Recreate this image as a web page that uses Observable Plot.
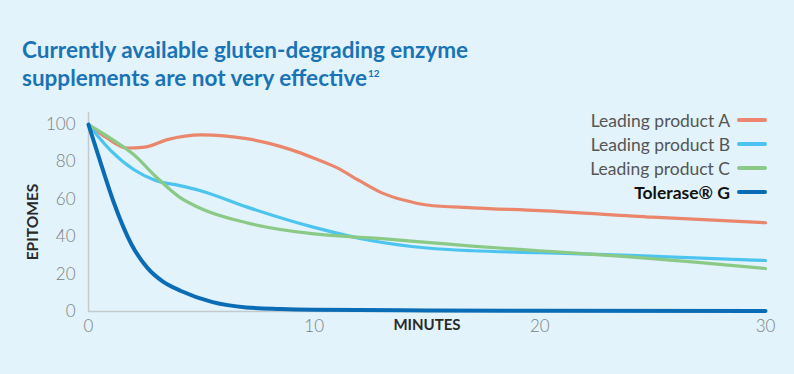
<!DOCTYPE html>
<html><head><meta charset="utf-8">
<script src="https://cdn.jsdelivr.net/npm/d3@7"></script>
<script src="https://cdn.jsdelivr.net/npm/@observablehq/plot@0.6"></script>
<style>
html,body{margin:0;padding:0;background:#e2f3fb;}
#wrap{position:relative;width:794px;height:374px;overflow:hidden;background:#e2f3fb;font-family:Lato,"Noto Sans",sans-serif;}
#title{position:absolute;left:22px;top:36px;color:#1a73b6;font-size:22.5px;font-weight:700;line-height:28px;letter-spacing:0px;}
#title sup{font-size:10px;vertical-align:baseline;position:relative;top:-9px;margin-left:1px;}
#chart{position:absolute;left:0;top:100px;}
#legend{position:absolute;right:27px;top:108px;}
.row{display:flex;align-items:center;justify-content:flex-end;height:24px;font-size:17.5px;color:#555;}
.row span.sw{display:inline-block;width:30px;height:3.5px;border-radius:2px;margin-left:7px;}
.row.bold{color:#111;font-weight:700;}
</style></head>
<body>
<div id="wrap">
  <div id="title">Currently available gluten-degrading enzyme<br>supplements are not very effective<sup>12</sup></div>
  <div id="chart"></div>
  <div id="legend"></div>
</div>
<script>
const seriesNames = ["Leading product A","Leading product B","Leading product C","Tolerase® G"];
const seriesColors = ["#e9866b","#4cc4ef","#8bc987","#0b6cb6"];
const seriesWidths = [3.2,3.2,3.2,4];

const minutesA = [0,0.8,1.7,2.5,3.5,5,6,7,8,9,10,11,12,13,14,15,17,20,25,30];
const valuesA  = [100,93,87.5,88,92,94.5,94,92.5,90,86.5,82,77,70,63.5,59.5,57,55.5,54,50.5,47.5];

const minutesB = [0,1,2,3,4,5,7,10,12.5,15,17,20,24,30];
const valuesB  = [100,86,76,70,67.5,64.5,56,45,38,34,32.5,31.5,30,27.3];

const minutesC = [0,1,2,3,4,5,7,10,13,15,17,20,24,30];
const valuesC  = [100,92.5,84,72,61.5,55,47.5,41.5,39,37,35,32.5,29.2,23];

const minutesG = [0,0.5,1.1,1.9,2.6,3.3,4.1,5.5,7,8.5,10,15,20,30];
const valuesG  = [100,81,59,36,23.5,16,11,5,2.2,1.4,1,0.6,0.4,0.3];

const yTicks = [0,20,40,60,80,100];
const xTicks = [0,10,20,30];

const allMinutes = [minutesA,minutesB,minutesC,minutesG];
const allValues = [valuesA,valuesB,valuesC,valuesG];
const data = allMinutes.flatMap((ms,i)=>ms.map((m,j)=>({series:seriesNames[i],minute:m,value:allValues[i][j]})));

const lines = seriesNames.map((s,i)=>Plot.line(data.filter(d=>d.series===s),{
  x:"minute",y:"value",stroke:seriesColors[i],strokeWidth:seriesWidths[i],curve:"monotone-x",strokeLinecap:"round"
}));

const plot = Plot.plot({
  width:794,height:274,
  marginLeft:88,marginRight:29,marginTop:12,marginBottom:63,
  style:{background:"transparent",fontFamily:"Lato, 'Noto Sans', sans-serif"},
  x:{domain:[0,30],ticks:xTicks,label:null},
  y:{domain:[0,106.5],ticks:yTicks,label:null},
  marks:[
    Plot.ruleX([0],{stroke:"#c4c9cc",strokeWidth:1.5}),
    Plot.ruleY([0],{stroke:"#c4c9cc",strokeWidth:1.5}),
    Plot.axisX({ticks:xTicks,tickSize:0,tickPadding:8,fontSize:17,color:"#808080",fontWeight:300,label:null}),
    Plot.axisY({ticks:yTicks,tickSize:0,tickPadding:13,fontSize:17,color:"#808080",fontWeight:300,label:null}),
    ...lines,
    Plot.text(["MINUTES"],{frameAnchor:"bottom",textAnchor:"middle",dy:18,fontSize:15,fontWeight:700,fill:"#2a2a2a",letterSpacing:"2.5px"}),
    Plot.text(["EPITOMES"],{frameAnchor:"left",textAnchor:"middle",dx:-55,dy:10,rotate:-90,fontSize:15.5,fontWeight:700,fill:"#2a2a2a",letterSpacing:"4px"})
  ]
});
document.getElementById("chart").appendChild(plot);

const legend = document.getElementById("legend");
seriesNames.forEach((s,i)=>{
  const row = document.createElement("div");
  row.className = "row" + (i===3?" bold":"");
  const t = document.createElement("span"); t.textContent = s;
  const sw = document.createElement("span"); sw.className="sw"; sw.style.background = seriesColors[i];
  row.appendChild(t); row.appendChild(sw);
  legend.appendChild(row);
});
</script>
</body></html>
